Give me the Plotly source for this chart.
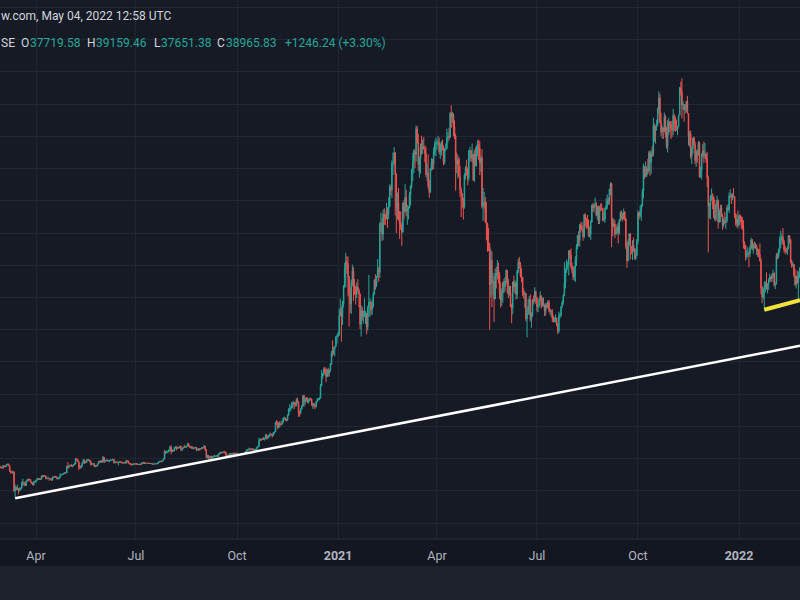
import pandas as pd
import plotly.graph_objects as go

# ---------------- data (daily BTC/USD) ----------------
month_starts = ["2020-02-27", "2020-03-01", "2020-04-01", "2020-05-01", "2020-06-01", "2020-07-01",
                "2020-08-01", "2020-09-01", "2020-10-01", "2020-11-01", "2020-12-01",
                "2021-01-01", "2021-02-01", "2021-03-01", "2021-04-01", "2021-05-01", "2021-06-01",
                "2021-07-01", "2021-08-01", "2021-09-01", "2021-10-01", "2021-11-01", "2021-12-01",
                "2022-01-01", "2022-02-01"]

first_open = 8800

close_by_month = [
    [8780, 8670, 8600],
    [8520, 8900, 8760, 8750, 9070, 9150, 8890, 8030, 7930, 7890, 7940, 4970, 5560, 5200, 5360, 5000, 5330, 5400, 6200, 6200, 6180, 5830, 6480, 6750, 6720, 6760, 6370, 6250, 5880, 6400, 6420],
    [6640, 6810, 6740, 6860, 6790, 7290, 7200, 7370, 7300, 6870, 6890, 6910, 6860, 6880, 6640, 7120, 7100, 7260, 7130, 6840, 6860, 7120, 7480, 7510, 7550, 7700, 7790, 7760, 8780, 8620],
    [8830, 8970, 8900, 8880, 9030, 9150, 9980, 9810, 9540, 8720, 8560, 8810, 9310, 9790, 9310, 9380, 9670, 9730, 9780, 9510, 9060, 9170, 9180, 8720, 8900, 8840, 9200, 9580, 9430, 9700, 9450],
    [10200, 9520, 9660, 9790, 9620, 9670, 9750, 9770, 9780, 9870, 9320, 9480, 9470, 9390, 9430, 9520, 9460, 9380, 9300, 9360, 9280, 9680, 9620, 9290, 9250, 9160, 9010, 9120, 9190, 9140],
    [9230, 9090, 9060, 9130, 9080, 9340, 9250, 9430, 9240, 9290, 9240, 9300, 9240, 9250, 9190, 9130, 9150, 9170, 9210, 9160, 9390, 9540, 9610, 9550, 9700, 9930, 11030, 10910, 11100, 11110, 11350],
    [11800, 11070, 11230, 11190, 11740, 11770, 11600, 11750, 11680, 11880, 11410, 11580, 11780, 11770, 11860, 11910, 12280, 11960, 11760, 11860, 11530, 11680, 11650, 11750, 11330, 11460, 11320, 11540, 11470, 11710, 11660],
    [11920, 11390, 10170, 10470, 10170, 10250, 10370, 10130, 10230, 10350, 10390, 10440, 10330, 10680, 10790, 10950, 10940, 10930, 11080, 10920, 10420, 10530, 10240, 10740, 10690, 10730, 10770, 10700, 10840, 10780],
    [10620, 10570, 10550, 10670, 10790, 10600, 10670, 10920, 11060, 11300, 11380, 11540, 11430, 11420, 11500, 11320, 11360, 11490, 11750, 11910, 12820, 12970, 12930, 13120, 13030, 13070, 13650, 13280, 13450, 13560, 13800],
    [13740, 13550, 14030, 14150, 15590, 15580, 14830, 15480, 15330, 15310, 15700, 16290, 16320, 16070, 15960, 16730, 17660, 17800, 17820, 18680, 18720, 18420, 18370, 19160, 18740, 17150, 17140, 17720, 18180, 19700],
    [18800, 19220, 19440, 18700, 19160, 19380, 19180, 18320, 18550, 18250, 18040, 18810, 19170, 19270, 19440, 21310, 22800, 23140, 23870, 23480, 22750, 23830, 23250, 23730, 24710, 26440, 26250, 27040, 27370, 28900, 29000],
    [29400, 32200, 33000, 31990, 34000, 36800, 39400, 40600, 40240, 38240, 35540, 34000, 37400, 39150, 36830, 36070, 35530, 36630, 36070, 35550, 30830, 33010, 32100, 32290, 32370, 32570, 30430, 33400, 34270, 34320, 33110],
    [33540, 35510, 37670, 36950, 38290, 39260, 38900, 46400, 46500, 44850, 47990, 47390, 47190, 48600, 47930, 49150, 52150, 51680, 55890, 55920, 57490, 54210, 48890, 49700, 47090, 46340, 46190, 45140],
    [49630, 48380, 50540, 48370, 48760, 48880, 50970, 52380, 54880, 55960, 57750, 57230, 61190, 59000, 55640, 56430, 58330, 58100, 58410, 58080, 57350, 54100, 54340, 52300, 51300, 55040, 55860, 55780, 57620, 58780, 58920],
    [58970, 59100, 57600, 58760, 59060, 58020, 56000, 58100, 58100, 59770, 60000, 59860, 63580, 62960, 63310, 61450, 60050, 56200, 55720, 56470, 53910, 51760, 51090, 50050, 49000, 54020, 55030, 54820, 53560, 57750],
    [57830, 56630, 57210, 53240, 57470, 56430, 57360, 58800, 58230, 55860, 56700, 49150, 49720, 49880, 46760, 46430, 43540, 42910, 37000, 40780, 37300, 37530, 34770, 38700, 38400, 39290, 38530, 35660, 34620, 35680, 37340],
    [36690, 37570, 39190, 36850, 35520, 35800, 33560, 33400, 37390, 36690, 37340, 35550, 39100, 40520, 40140, 38350, 38090, 35820, 35480, 35600, 31680, 32510, 33690, 34660, 31590, 32280, 34700, 34500, 35910, 35040],
    [33570, 33820, 34670, 35290, 33690, 34230, 33860, 32880, 33810, 33510, 34260, 33090, 32730, 32820, 31780, 31420, 31530, 31780, 30840, 29790, 32140, 32310, 33580, 34290, 35380, 37270, 39460, 40000, 40030, 42230, 41630],
    [39880, 39160, 38150, 39750, 40870, 42820, 44630, 43820, 46280, 45600, 45550, 44430, 47830, 47100, 47050, 46000, 44700, 44800, 46720, 49340, 48900, 49320, 49550, 47700, 48970, 46840, 49070, 48900, 48830, 47050, 47130],
    [48830, 49280, 50030, 49940, 51770, 52660, 46860, 46070, 46400, 44850, 45160, 46030, 44960, 47090, 48180, 47780, 47300, 48310, 47260, 42840, 40690, 43580, 44880, 42840, 42700, 43200, 42170, 41030, 41520, 43790],
    [48140, 47660, 48230, 49250, 51490, 55340, 53800, 53970, 54960, 54660, 57480, 56010, 57370, 57350, 61670, 60880, 61530, 62000, 64280, 66000, 62210, 60690, 61300, 60860, 63080, 60330, 58450, 60590, 62270, 61880, 61320],
    [61000, 63230, 62940, 61440, 61010, 61530, 63300, 67550, 66970, 64880, 64950, 64160, 64470, 65470, 63560, 60080, 60360, 56900, 58120, 59750, 58750, 56280, 57570, 57180, 58950, 53730, 54720, 57270, 57800, 56980],
    [57230, 56510, 53600, 49200, 49400, 50580, 50600, 50470, 47550, 47140, 49390, 50080, 46700, 48340, 48890, 47650, 46200, 46850, 46680, 46910, 48930, 48630, 50820, 50840, 50400, 50800, 50680, 47540, 46470, 47120, 46210],
    [47690, 47310, 46440, 45830, 43430, 43080, 41550, 41670, 41860, 41820, 42740, 43920, 42590, 43100, 43180, 43110, 42250, 42370, 41670, 40680, 36450, 35070, 36280, 36690, 36960, 36850, 37140, 37720, 38170, 37920, 38480],
    [38740, 36950, 37150, 41500, 41410, 42410, 43840, 44040, 44390, 43570, 42410, 42240, 42200, 42590, 44580, 43960, 40540, 40010, 40120, 38430, 37020, 38290, 37290, 38330, 39220],
]

high_by_month = [
    [8980, 8880, 8800],
    [8750, 8950, 8920, 8830, 9150, 9180, 9200, 8900, 8150, 8150, 7990, 7960, 5950, 5640, 5940, 5380, 5550, 5450, 6420, 6860, 6430, 6390, 6610, 6810, 6950, 6800, 6830, 6290, 6250, 6550, 6540],
    [6700, 7000, 7000, 6970, 6900, 7350, 7450, 7410, 7380, 7310, 6960, 7220, 6920, 6990, 6930, 7200, 7150, 7300, 7270, 7220, 6970, 7160, 7720, 7570, 7680, 7720, 7800, 7800, 8890, 9460],
    [9000, 9010, 9180, 9000, 9110, 9370, 10000, 10010, 9910, 9550, 9000, 8930, 9400, 9900, 9830, 9560, 9870, 9920, 9900, 9840, 9560, 9270, 9300, 9300, 8970, 8990, 9220, 9590, 9600, 9740, 9700],
    [10400, 10220, 9690, 9870, 9850, 9720, 9770, 9800, 9830, 9990, 9950, 9570, 9490, 9480, 9530, 9580, 9560, 9480, 9420, 9410, 9420, 9760, 9700, 9670, 9340, 9280, 9190, 9190, 9230, 9200],
    [9310, 9270, 9130, 9190, 9140, 9360, 9380, 9450, 9450, 9320, 9300, 9340, 9340, 9280, 9270, 9220, 9200, 9200, 9240, 9230, 9420, 9550, 9670, 9630, 9730, 10040, 11350, 11200, 11240, 11160, 11430],
    [12000, 12030, 11440, 11390, 11780, 11900, 11910, 11800, 11800, 12050, 12000, 11630, 11800, 12150, 11980, 11930, 12460, 12390, 12000, 11880, 11880, 11690, 11700, 11820, 11780, 11530, 11600, 11560, 11580, 11720, 11760],
    [12090, 11950, 11450, 10620, 10570, 10350, 10400, 10430, 10350, 10590, 10430, 10480, 10560, 10780, 10940, 11090, 11030, 11040, 11170, 11050, 10990, 10560, 10540, 10780, 10770, 10780, 10810, 10940, 10860, 10840],
    [10940, 10650, 10600, 10690, 10800, 10800, 10700, 11000, 11110, 11490, 11440, 11710, 11560, 11550, 11620, 11540, 11410, 11500, 11800, 11970, 13200, 13150, 13030, 13170, 13340, 13230, 13760, 13850, 13590, 13650, 14030],
    [13890, 13830, 14070, 14250, 15740, 15960, 15770, 15650, 15850, 15450, 15950, 16340, 16480, 16310, 16160, 16850, 17820, 18480, 18150, 18790, 18950, 18740, 18770, 19350, 19460, 18890, 17430, 17880, 18340, 19860],
    [19920, 19310, 19540, 19500, 19170, 19410, 19390, 19290, 18640, 18580, 18300, 18930, 19410, 19350, 19540, 21560, 23770, 23280, 24130, 24250, 24050, 23840, 24090, 23780, 24770, 26720, 28370, 27380, 27390, 28990, 29300],
    [29680, 33300, 34800, 33600, 34450, 36940, 40350, 41950, 41380, 41350, 38250, 36600, 37800, 40100, 39700, 37900, 36840, 37300, 37850, 36400, 35600, 33800, 33550, 32950, 34850, 32950, 32570, 33750, 38500, 34850, 34300],
    [34700, 35900, 37850, 38600, 38300, 40950, 39700, 46700, 48150, 47300, 48600, 48850, 48000, 49700, 49000, 50550, 52550, 52500, 56300, 57500, 58350, 57500, 54100, 51300, 52000, 48400, 48350, 46650],
    [49800, 50100, 52600, 51700, 49400, 49200, 51400, 52400, 54900, 57400, 58000, 58000, 61700, 61600, 60400, 56900, 58900, 60100, 59500, 59900, 58600, 58400, 55800, 57200, 53200, 55100, 56600, 56500, 58300, 59300, 59800],
    [59500, 60100, 59800, 58900, 59300, 59500, 58600, 58200, 58900, 61200, 60700, 61300, 63800, 64850, 63800, 63600, 62500, 60400, 57500, 57100, 56800, 55400, 52100, 51200, 50500, 54300, 55400, 56400, 55200, 57900],
    [58400, 57900, 58900, 57200, 57900, 58300, 58600, 59400, 59500, 59300, 57000, 58000, 52000, 51400, 50600, 49800, 46600, 45800, 43500, 42500, 42200, 38800, 38300, 39500, 39800, 40800, 40400, 38900, 37300, 36400, 37500],
    [37900, 38200, 39400, 39300, 37900, 36800, 36800, 34000, 37500, 38400, 37700, 37400, 39300, 41000, 41300, 40500, 39500, 38200, 36400, 36000, 35700, 33300, 34800, 35200, 35500, 32700, 34700, 35300, 36600, 36100],
    [35000, 33900, 34900, 35950, 35300, 35000, 35000, 33900, 34100, 34200, 34600, 34600, 33300, 33100, 33200, 32200, 31900, 32400, 31900, 31000, 32800, 32600, 33600, 34500, 35400, 40500, 39500, 40900, 40600, 42300, 42400],
    [42600, 40400, 39800, 39900, 41400, 43300, 44700, 45300, 46400, 46700, 46700, 46200, 47900, 48100, 47400, 47800, 47100, 46000, 47000, 49400, 49700, 49500, 50500, 49800, 49200, 49300, 49200, 49600, 49600, 48900, 48200],
    [49000, 50400, 51000, 50500, 51900, 52900, 52800, 47300, 47300, 47000, 45900, 46400, 46700, 47200, 48400, 48500, 48100, 48800, 48300, 47300, 43600, 44000, 44900, 45000, 42900, 43900, 44300, 42700, 42600, 44100],
    [48500, 48400, 49300, 49500, 51900, 55800, 55300, 56100, 55400, 56500, 57800, 57700, 57900, 58500, 62900, 62000, 61700, 62600, 64500, 67000, 66600, 63700, 61700, 61400, 63700, 63300, 61500, 62500, 62900, 62300, 62400],
    [62400, 64300, 63500, 63100, 62600, 61600, 63300, 67700, 68500, 69000, 65500, 65000, 65000, 65500, 66300, 63500, 60800, 60900, 58400, 59800, 60000, 59200, 58000, 57900, 59300, 59200, 55300, 57400, 58800, 59200],
    [59000, 57400, 57600, 53900, 49700, 50900, 51900, 51200, 50800, 50100, 49500, 50800, 50200, 48600, 49400, 49400, 48000, 47300, 48300, 47500, 49300, 49500, 51300, 51800, 51100, 51200, 52000, 50700, 48100, 47900, 48500],
    [47900, 47900, 47600, 47500, 47000, 43700, 43100, 42300, 42800, 42200, 43100, 44300, 44100, 43400, 43700, 43500, 43200, 42700, 42500, 43400, 41100, 36800, 36400, 37500, 37500, 38900, 37200, 38000, 38700, 38300, 38700],
    [39300, 38900, 37400, 41900, 41900, 42600, 44500, 45400, 44800, 45800, 43900, 43000, 42700, 42900, 44700, 44600, 44100, 40900, 40500, 40200, 39400, 38400, 39200, 39000, 39700],
]

low_by_month = [
    [8540, 8450, 8550],
    [8420, 8460, 8650, 8670, 8750, 9000, 8860, 8000, 7650, 7700, 7600, 4850, 3850, 5080, 5100, 4450, 4950, 5030, 5250, 5730, 5850, 5720, 5750, 6420, 6490, 6590, 6300, 6050, 5880, 5860, 6360],
    [6200, 6600, 6710, 6700, 6700, 6780, 7100, 7160, 7230, 6800, 6800, 6800, 6550, 6800, 6620, 6620, 7030, 7080, 7020, 6830, 6770, 6820, 7070, 7410, 7480, 7530, 7630, 7680, 7750, 8420],
    [8630, 8790, 8730, 8600, 8830, 8960, 9150, 9700, 9510, 8200, 8360, 8550, 8780, 9250, 9170, 9300, 9340, 9600, 9620, 9390, 8870, 9060, 9120, 8690, 8680, 8800, 8800, 9130, 9390, 9360, 9350],
    [9410, 9300, 9450, 9590, 9560, 9580, 9430, 9600, 9670, 9730, 9250, 9260, 9380, 9270, 8940, 9360, 9380, 9280, 9210, 9260, 9270, 9280, 9560, 9250, 9060, 9060, 8990, 8950, 9080, 9090],
    [9090, 9030, 9040, 9060, 8970, 9060, 9220, 9240, 9200, 9140, 9200, 9170, 9200, 9150, 9160, 9090, 9120, 9140, 9120, 9140, 9150, 9380, 9480, 9400, 9550, 9650, 9920, 10660, 10900, 10830, 10980],
    [11160, 10660, 11000, 11090, 11150, 11540, 11260, 11530, 11540, 11680, 11200, 11160, 11500, 11690, 11670, 11700, 11840, 11820, 11610, 11700, 11520, 11430, 11560, 11580, 11150, 11300, 11170, 11290, 11450, 11450, 11600],
    [11570, 11200, 10030, 10020, 9880, 10030, 9880, 9900, 10110, 10210, 10210, 10310, 10260, 10290, 10660, 10690, 10770, 10830, 10890, 10800, 10370, 10370, 10160, 10210, 10590, 10630, 10640, 10670, 10660, 10650],
    [10550, 10400, 10500, 10540, 10630, 10570, 10580, 10650, 10820, 11080, 11210, 11310, 11280, 11280, 11300, 11220, 11300, 11340, 11420, 11690, 11860, 12700, 12730, 12880, 12900, 12800, 13030, 12940, 13040, 13150, 13420],
    [13620, 13260, 13530, 13820, 14100, 15230, 14530, 14730, 14860, 15130, 15270, 15480, 15950, 15850, 15770, 15850, 16620, 17220, 17370, 17770, 18030, 17650, 18050, 18100, 18590, 16500, 16500, 16880, 17600, 18180],
    [18000, 18330, 18890, 18620, 18550, 18870, 19000, 18210, 17700, 17960, 17650, 18050, 18730, 19010, 19050, 19290, 21240, 22390, 22860, 23080, 21870, 22600, 22720, 22740, 23460, 24520, 25850, 26130, 25850, 27340, 27850],
    [28800, 29050, 32100, 28150, 30750, 33450, 36500, 36600, 38700, 35170, 30500, 32570, 32450, 36730, 34500, 35400, 33900, 34900, 35900, 33500, 30100, 28950, 31400, 30950, 31950, 30880, 29280, 29900, 31950, 32020, 32300],
    [32300, 33450, 35400, 36200, 36600, 38050, 37450, 38050, 45200, 43750, 43950, 46300, 46200, 47100, 45800, 47200, 48950, 50900, 50450, 54000, 55500, 47700, 45000, 47100, 46900, 44100, 45500, 43000],
    [45100, 47100, 48150, 47600, 46300, 47100, 48800, 49300, 51900, 53100, 54300, 55100, 56100, 58900, 54600, 53600, 54200, 57100, 57300, 57900, 56000, 53700, 53100, 51800, 50500, 51300, 54700, 54800, 54900, 57100, 56900],
    [57900, 58600, 57200, 56500, 57000, 57800, 55500, 55700, 57700, 58000, 59000, 59400, 59800, 61300, 62100, 60000, 59600, 51600, 54300, 53500, 53700, 50600, 47500, 48800, 47100, 48800, 53300, 53900, 52400, 53100],
    [56100, 56100, 56000, 53100, 52900, 55400, 55300, 56900, 56300, 54000, 54500, 48800, 46900, 48800, 46600, 43900, 42100, 42200, 30000, 35000, 33500, 35400, 31200, 34800, 36400, 37800, 37200, 34800, 33400, 33700, 34200],
    [35700, 35900, 37200, 35600, 34900, 35300, 33500, 31000, 32400, 35900, 35600, 34700, 34800, 38800, 39500, 38100, 37400, 35200, 34800, 33400, 31300, 28800, 32300, 32300, 31300, 30300, 32000, 33900, 34300, 34000],
    [32800, 32700, 33400, 34400, 33300, 33600, 33600, 32100, 32200, 33300, 33300, 32700, 32300, 32000, 31200, 31100, 31200, 31100, 30500, 29300, 29500, 31700, 32000, 33400, 33900, 35200, 36400, 38800, 39300, 38400, 41000],
    [39500, 38700, 37700, 37600, 37400, 39900, 42500, 43000, 42900, 45100, 45400, 43800, 44200, 46000, 45600, 45800, 44400, 44300, 43900, 46600, 48300, 48200, 49100, 47600, 47100, 46400, 46400, 48400, 48500, 46800, 46800],
    [46600, 48600, 48700, 49400, 49400, 50900, 42800, 44500, 45900, 44200, 44700, 44800, 43400, 44800, 46800, 47100, 46800, 47100, 46900, 42500, 39600, 40600, 43100, 40900, 41700, 40800, 42100, 40900, 40800, 41400],
    [43300, 47100, 47400, 46900, 49100, 50400, 53400, 53700, 53700, 54100, 54400, 53900, 54200, 56800, 56900, 59200, 58900, 60900, 61600, 63500, 62000, 60100, 59700, 59600, 60700, 59800, 58100, 57500, 60200, 60700, 59600],
    [59900, 60200, 60800, 60700, 60900, 60200, 61400, 63300, 66300, 62800, 64100, 62300, 63600, 63800, 63500, 58600, 58400, 56500, 55700, 57300, 58600, 55700, 55300, 55900, 57000, 53600, 53600, 53300, 56700, 55900],
    [56500, 55900, 52100, 42000, 47300, 47100, 50000, 48700, 47300, 46900, 46800, 48700, 45700, 46600, 46700, 47500, 45500, 45900, 46400, 45600, 46600, 48500, 48100, 50500, 49500, 50100, 50500, 47300, 46100, 45900, 45700],
    [46200, 46700, 45700, 45500, 42600, 42500, 40700, 41000, 41300, 39700, 41300, 42500, 42300, 41800, 42600, 42600, 41600, 41300, 41200, 40600, 35500, 34100, 34700, 33000, 35800, 36200, 35600, 36200, 37400, 37400, 37400],
    [38000, 36700, 36300, 37000, 40900, 41100, 41900, 42700, 43200, 43200, 42000, 41700, 41900, 41600, 42500, 43400, 40300, 39600, 39700, 38100, 36800, 36400, 37100, 34300, 38000],
]

tick_dates = ["2020-04-01", "2020-07-01", "2020-10-01", "2021-01-01",
              "2021-04-01", "2021-07-01", "2021-10-01", "2022-01-01"]
tick_labels = ["Apr", "Jul", "Oct", "2021", "Apr", "Jul", "Oct", "2022"]
year_labels = ["2021", "2022"]

trend_dates = ["2020-03-13", "2022-02-25 12:00"]
trend_prices = [3850, 27500]
support_dates = ["2022-01-24", "2022-02-25 12:00"]
support_prices = [33100, 34600]

header_date = "w.com, May 04, 2022 12:58 UTC"
ohlc_keys = ["SE", "O", "H", "L", "C"]
ohlc_vals = ["", "37719.58", "39159.46", "37651.38", "38965.83"]
change_text = "+1246.24 (+3.30%)"

# ---------------- build OHLC ----------------
dates, opens, highs, lows, closes = [], [], [], [], []
prev = first_open
for start, c, h, l in zip(month_starts, close_by_month, high_by_month, low_by_month):
    n = min(len(c), len(h), len(l))
    ds = pd.date_range(start, periods=n, freq="D")
    for i in range(n):
        dates.append(ds[i])
        opens.append(prev)
        closes.append(c[i])
        highs.append(h[i])
        lows.append(l[i])
        prev = c[i]

UP = "#26a69a"
DOWN = "#ef5350"
BG = "#161a25"
GRID = "#222633"
FONT = "Roboto"
PLOT_H = 539  # px

def py(y_px):
    return 1 - y_px / PLOT_H

fig = go.Figure()
fig.add_trace(go.Candlestick(
    x=dates, open=opens, high=highs, low=lows, close=closes,
    increasing=dict(line=dict(color=UP, width=1), fillcolor=UP),
    decreasing=dict(line=dict(color=DOWN, width=1), fillcolor=DOWN),
    hoverinfo="skip", showlegend=False,
))
fig.add_trace(go.Scatter(x=trend_dates, y=trend_prices, mode="lines",
                         line=dict(color="#ffffff", width=2.5), hoverinfo="skip", showlegend=False))
fig.add_trace(go.Scatter(x=support_dates, y=support_prices, mode="lines",
                         line=dict(color="#f2e23c", width=4), hoverinfo="skip", showlegend=False))

ticktext = [f"<b>{t}</b>" if t in year_labels else t for t in tick_labels]

annotations = [
    dict(text=header_date, x=-1 / 800, y=py(16), xref="paper", yref="paper",
         xanchor="left", yanchor="middle", showarrow=False,
         font=dict(family=FONT, size=12, color="#d1d4dc")),
]
key_x = [0, 20, 86, 153, 216]
val_x = [0, 29, 95, 160, 225]
for k, v, kx, vx in zip(ohlc_keys, ohlc_vals, key_x, val_x):
    annotations.append(dict(text=k, x=(kx - 1) / 800, y=py(43), xref="paper", yref="paper",
                            xanchor="left", yanchor="middle", showarrow=False,
                            font=dict(family=FONT, size=12, color="#d1d4dc")))
    if v:
        annotations.append(dict(text=v, x=(vx - 1) / 800, y=py(43), xref="paper", yref="paper",
                                xanchor="left", yanchor="middle", showarrow=False,
                                font=dict(family=FONT, size=12, color=UP)))
annotations.append(dict(text=change_text, x=(284 - 1) / 800, y=py(43), xref="paper", yref="paper",
                        xanchor="left", yanchor="middle", showarrow=False,
                        font=dict(family=FONT, size=12, color=UP)))

shapes = [
    dict(type="rect", xref="paper", yref="paper", x0=0, x1=1, y0=py(566), y1=0,
         fillcolor="#131722", line=dict(width=0), layer="below"),
    dict(type="line", xref="paper", yref="paper", x0=0, x1=1, y0=0, y1=0,
         line=dict(color="#2a2e39", width=1)),
]

fig.update_layout(
    width=800, height=600, autosize=False,
    margin=dict(l=0, r=0, t=0, b=600 - PLOT_H, pad=0),
    paper_bgcolor="#1e222d", plot_bgcolor=BG,
    showlegend=False,
    annotations=annotations, shapes=shapes,
    xaxis=dict(type="date", range=["2020-02-28 04:48", "2022-02-25 12:00"],
               rangeslider=dict(visible=False),
               tickvals=tick_dates, ticktext=ticktext,
               tickfont=dict(family=FONT, size=12.5, color="#b2b5be"),
               ticks="outside", ticklen=5, tickcolor="rgba(0,0,0,0)",
               showgrid=True, gridcolor=GRID, gridwidth=1,
               zeroline=False, showline=False, fixedrange=True),
    yaxis=dict(range=[-2483, 81173], tick0=0, dtick=5000,
               showticklabels=False, showgrid=True, gridcolor=GRID, gridwidth=1,
               zeroline=False, showline=False, fixedrange=True),
)

fig.write_html("out.html",
               config={"displayModeBar": False, "staticPlot": True},
               post_script="document.body.style.margin='0';document.body.style.padding='0';"
                           "document.body.style.overflow='hidden';")
